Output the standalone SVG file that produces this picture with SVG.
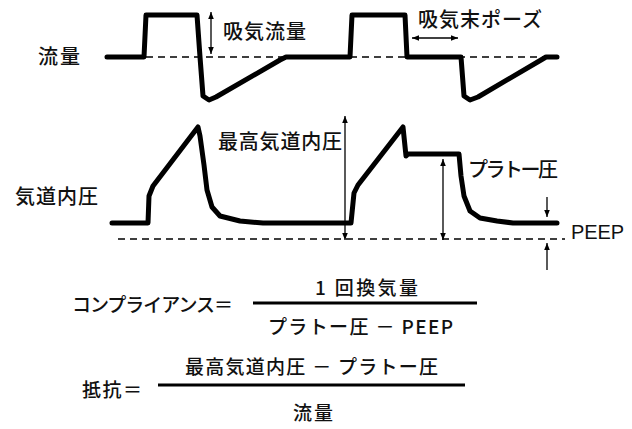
<svg xmlns="http://www.w3.org/2000/svg" width="632" height="429" viewBox="0 0 632 429">
<style>
.wave{fill:none;stroke:#000;stroke-width:5;stroke-linejoin:round;stroke-linecap:round}
.dash{fill:none;stroke:#000;stroke-width:1.5;stroke-dasharray:7 5}
.arr{fill:none;stroke:#000;stroke-width:1.3}
.frac{stroke:#000;stroke-width:3}
text{font-family:"Noto Sans CJK JP","Noto Sans",sans-serif;fill:#111;dominant-baseline:central;font-weight:500}
.lbl{font-size:20px}
.f{font-size:19px}
.lat{font-family:"Liberation Sans",Arial,sans-serif;font-size:20px;font-weight:normal}
</style>
<defs>
<marker id="ah" viewBox="0 0 10 10" refX="10" refY="5" markerWidth="7" markerHeight="7" markerUnits="userSpaceOnUse" orient="auto-start-reverse">
<path d="M0,1 L10,5 L0,9 Z" fill="#000"/>
</marker>
</defs>

<g id="labels">
<text class="lbl" x="38" y="55" textLength="42">流量</text>
<text class="lbl" x="15" y="195" textLength="83">気道内圧</text>
</g>

<g id="flow-wave">
<line class="dash" x1="146" y1="57" x2="554" y2="57"/>
<path class="wave" d="M107,57 L144,57 L146,15 L197,15 L200,57 L203,96 L209,100 L216,97 L280,60 L286,57 L350,57 L352,15 L405,15 L407,57 L461,57 L464,96 L470,100 L478,97 L541,60 L546,57 L557,57"/>
</g>

<g id="pressure-wave">
<line class="dash" x1="118" y1="239" x2="565" y2="239"/>
<path class="wave" d="M112,223 L148,223 L149,196 L153,186 L198,127 L200,136 L204,165 L207,190 L212,207 L220,216 L240,221 L263,223 L351,223 L354,193 L358,185 L403,127 L406,156 L408,154 L459,154 L461,176 L464,196 L470,211 L480,218 L497,221 L513,223 L557,223"/>
</g>

<g id="connectors">
<line class="arr" x1="211" y1="12" x2="211" y2="54" marker-start="url(#ah)" marker-end="url(#ah)"/>
<line class="arr" x1="412" y1="38" x2="458" y2="38" marker-start="url(#ah)" marker-end="url(#ah)"/>
<line class="arr" x1="345" y1="116" x2="345" y2="240" marker-start="url(#ah)" marker-end="url(#ah)"/>
<line class="arr" x1="443" y1="159" x2="443" y2="240" marker-start="url(#ah)" marker-end="url(#ah)"/>
<line class="arr" x1="547" y1="197" x2="547" y2="217" marker-end="url(#ah)"/>
<line class="arr" x1="547" y1="270" x2="547" y2="243" marker-end="url(#ah)"/>
</g>

<g id="annotations">
<text class="lbl" x="223" y="30" textLength="83">吸気流量</text>
<text class="lbl" x="418" y="18" textLength="124">吸気末ポーズ</text>
<text class="lbl" x="218" y="140" textLength="124">最高気道内圧</text>
<text class="lbl" x="468" y="168" textLength="90">プラトー圧</text>
<text class="lat" x="571" y="232" textLength="53">PEEP</text>
</g>

<g id="compliance">
<text class="f" x="72" y="303" textLength="161">コンプライアンス＝</text>
<line class="frac" x1="253" y1="303" x2="477" y2="303"/>
<text class="f" x="315" y="286" textLength="103">1 回換気量</text>
<text class="f" x="268" y="325" textLength="185">プラトー圧 － PEEP</text>
</g>

<g id="resistance">
<text class="f" x="82" y="388" textLength="60">抵抗＝</text>
<line class="frac" x1="158" y1="385" x2="465" y2="385"/>
<text class="f" x="185" y="365" textLength="253">最高気道内圧 － プラトー圧</text>
<text class="f" x="293" y="411" textLength="40">流量</text>
</g>
</svg>
